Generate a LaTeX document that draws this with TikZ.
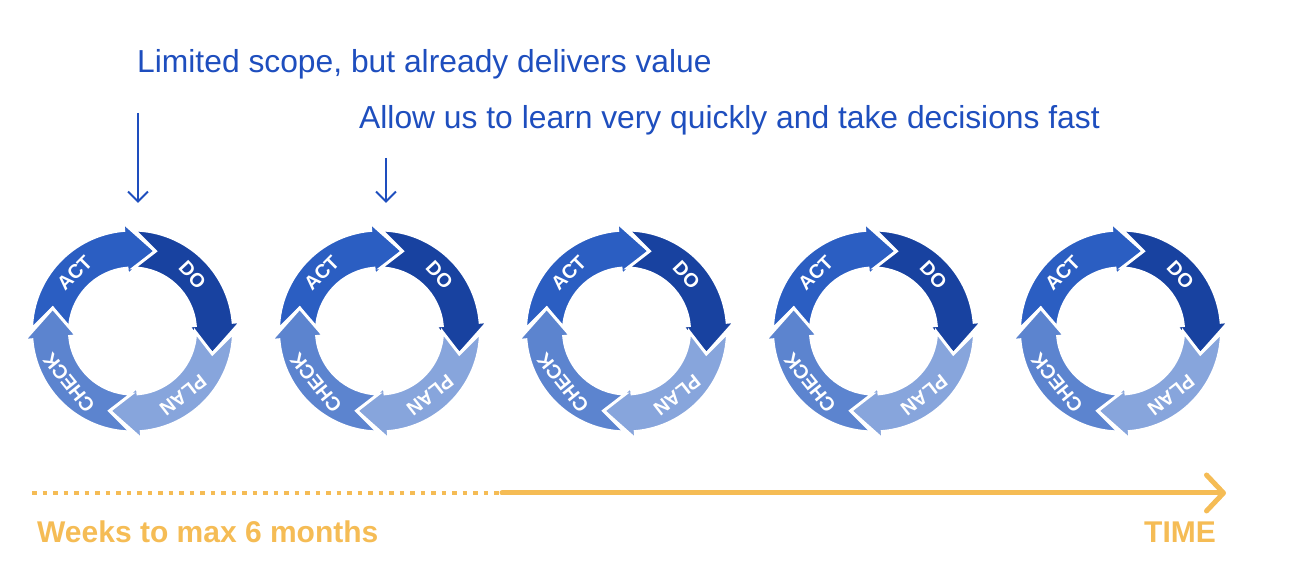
\documentclass[tikz,border=0pt]{standalone}
\usepackage{fontspec}
\setmainfont{Liberation Sans}
\usetikzlibrary{arrows.meta}
\definecolor{actc}{RGB}{43,94,194}
\definecolor{doc}{RGB}{24,66,160}
\definecolor{planc}{RGB}{135,165,220}
\definecolor{checkc}{RGB}{92,132,207}
\definecolor{txtblue}{RGB}{30,78,190}
\definecolor{tgold}{RGB}{245,188,85}
\begin{document}
\begin{tikzpicture}[x=1pt,y=1pt,
  seg/.style={fill=#1, draw=white, line width=3pt, line join=miter},
  lbl/.style={text=white, font=\fontsize{19.5}{20}\selectfont\bfseries, inner sep=0},
  bluetxt/.style={anchor=base west, inner sep=0, text=txtblue, font=\fontsize{31.8}{36}\selectfont},
  goldtxt/.style={anchor=base west, inner sep=0, text=tgold, font=\fontsize{30}{36}\selectfont\bfseries},
  downarrow/.style={draw=txtblue, line width=2pt, -{Straight Barb[length=10pt,width=20pt]}}]
\useasboundingbox (0,0) rectangle (1294,586);
\foreach \i in {0,...,4}{
  \coordinate (c\i) at ({132.5+247*\i},255);
  \foreach \b/\col/\txt/\ph in {95/actc/ACT/135, 5/doc/DO/43, -85/planc/PLAN/-52, -175/checkc/CHECK/-141}{
    \path[seg=\col] ([shift={(\b+84:101pt)}]c\i)
      arc[start angle=\b+84, end angle=\b, radius=101pt]
      -- ([shift={(\b:109pt)}]c\i)
      -- ([shift={(\b-21:83pt)}]c\i)
      -- ([shift={(\b:56pt)}]c\i)
      -- ([shift={(\b:63pt)}]c\i)
      arc[start angle=\b, end angle=\b+84, radius=63pt]
      -- ([shift={(\b+69:83pt)}]c\i) -- cycle;
    \node[lbl, rotate=\ph-90] (l\i\txt) at ([shift={(\ph:82pt)}]c\i) {\txt};
  }
}
\node[bluetxt] (t1) at (137,513) {Limited scope, but already delivers value};
\node[bluetxt] (t2) at (359,457) {Allow us to learn very quickly and take decisions fast};
\coordinate (a1s) at (138,473);
\coordinate (a1e) at (138,383);
\coordinate (a2s) at (386,428);
\coordinate (a2e) at (386,383);
\draw[downarrow] (a1s) -- (a1e);
\draw[downarrow] (a2s) -- (a2e);
\coordinate (ts) at (32,93);
\coordinate (tm) at (502,93);
\coordinate (te) at (1226,93);
\draw[tgold, line width=4.5pt, dash pattern=on 4.5pt off 6pt] (ts) -- (tm);
\draw[tgold, line width=5pt, line cap=round, -{Straight Barb[length=17pt,width=36pt,round]}] (tm) -- (te);
\node[goldtxt] (wk) at (37,43) {Weeks to max 6 months};
\node[goldtxt] (tl) at (1144,43) {TIME};
\end{tikzpicture}
\end{document}
